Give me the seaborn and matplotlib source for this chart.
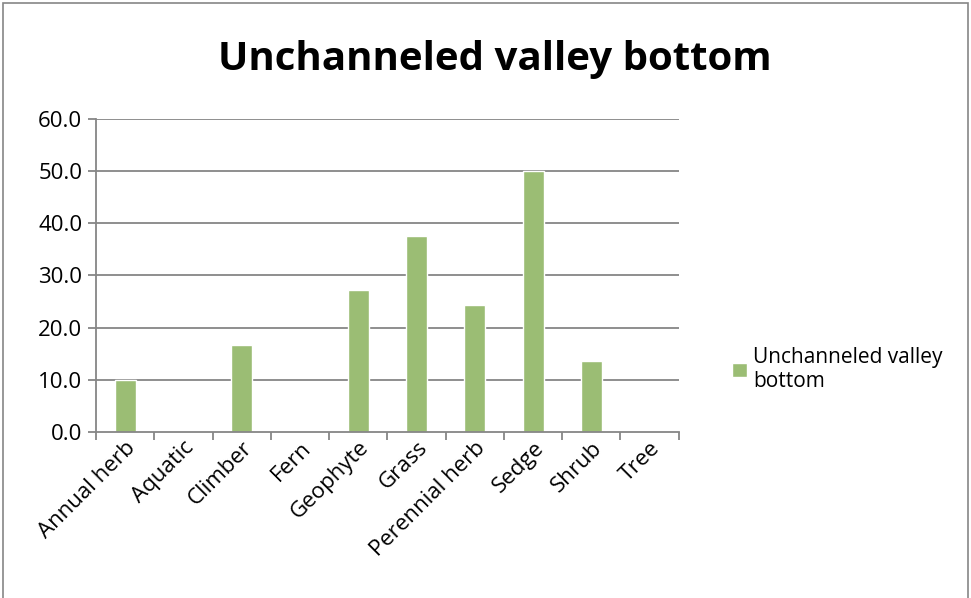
import numpy as np
import pandas as pd
import seaborn as sns
import matplotlib.pyplot as plt
from matplotlib.patches import Rectangle

categories = ['Annual herb', 'Aquatic', 'Climber', 'Fern', 'Geophyte', 'Grass',
              'Perennial herb', 'Sedge', 'Shrub', 'Tree']
values = [10.0, 0.0, 16.7, 0.0, 27.2, 37.5, 24.4, 50.0, 13.6, 0.0]
series_name = 'Unchanneled valley bottom'
y_ticks = [0, 10, 20, 30, 40, 50, 60]

df = pd.DataFrame({'type': categories, 'pct': values})

sns.set_style('white')
plt.rcParams['font.family'] = ['Open Sans', 'DejaVu Sans']
plt.rcParams['text.color'] = 'black'

fig = plt.figure(figsize=(9.71, 5.98), dpi=100)
ax = fig.add_axes([0.099, 0.278, 0.600, 0.523])

ax.set_axisbelow(True)
for t in y_ticks[1:]:
    ax.axhline(t, color='#868686', lw=1.3, zorder=0)

sns.barplot(data=df, x='type', y='pct', color='#9bbd74', width=0.36,
            saturation=1, ax=ax, label=series_name, zorder=2)

ax.set_ylim(0, 60)
ax.set_xlim(-0.5, len(categories) - 0.5)
ax.set_yticks(y_ticks)
ax.set_yticklabels([f'{t:.1f}' for t in y_ticks], fontsize=16, color='black')
ax.set_xticks(range(len(categories)))
ax.set_xticklabels(categories, rotation=45, ha='right', rotation_mode='anchor',
                   fontsize=16, color='black')
ax.tick_params(axis='x', which='major', bottom=False, length=0, pad=4)
ax.set_xticks(np.arange(-0.5, len(categories)), minor=True)
ax.tick_params(axis='x', which='minor', bottom=True, length=6, color='#868686',
               width=1.3, direction='out')
ax.tick_params(axis='y', left=True, length=6, color='#868686', width=1.3,
               direction='out', pad=4)
ax.set_xlabel('')
ax.set_ylabel('')

for s in ['top', 'right']:
    ax.spines[s].set_visible(False)
for s in ['left', 'bottom']:
    ax.spines[s].set_color('#868686')
    ax.spines[s].set_linewidth(1.3)

fig.text(0.51, 0.90, series_name, ha='center', va='center', fontsize=29,
         fontweight='bold', color='black')

leg = ax.legend(loc='center left', bbox_to_anchor=(1.06, 0.2), frameon=False,
                fontsize=15, handlelength=0.7, handleheight=0.7, handletextpad=0.3,
                labelspacing=0)
leg.get_texts()[0].set_text('Unchanneled valley\nbottom')

fig.patches.append(Rectangle((0.003, -0.01), 0.994, 1.005, transform=fig.transFigure,
                             fill=False, edgecolor='#868686', lw=1.2))

fig.savefig('out.png', dpi=100)
